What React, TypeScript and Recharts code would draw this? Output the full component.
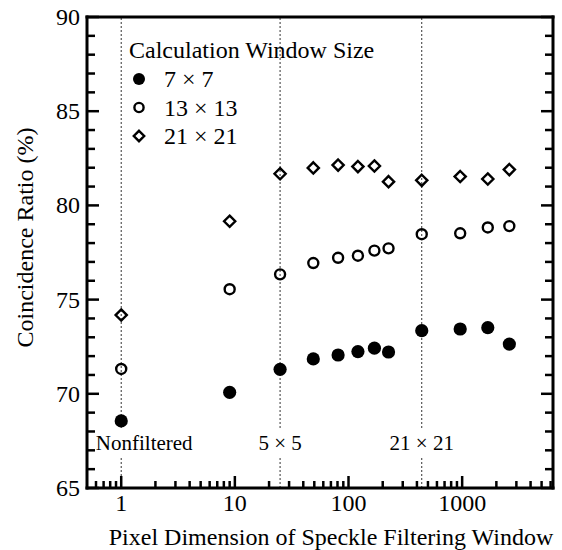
import React from "react";
import { Legend, ReferenceLine, Scatter, ScatterChart, XAxis, YAxis } from "recharts";

// filtering window area (pixels): 1, 3x3, 5x5, ... 51x51
const FILTER_SIZES = [1, 9, 25, 49, 81, 121, 169, 225, 441, 961, 1681, 2601];
const RATIO_7 = [68.56, 70.08, 71.3, 71.85, 72.06, 72.24, 72.42, 72.22, 73.35, 73.44, 73.51, 72.64];
const RATIO_13 = [71.32, 75.55, 76.34, 76.94, 77.22, 77.33, 77.6, 77.72, 78.47, 78.52, 78.83, 78.9];
const RATIO_21 = [74.18, 79.16, 81.68, 81.99, 82.14, 82.06, 82.09, 81.26, 81.33, 81.53, 81.4, 81.9];
const SERIES_NAMES = ["7 \u00d7 7", "13 \u00d7 13", "21 \u00d7 21"];

const REF_X = [1, 25, 441];
const REF_LABELS = ["Nonfiltered", "5 \u00d7 5", "21 \u00d7 21"];
const REF_LABEL_Y = 67.4;

const X_MAJOR = [1, 10, 100, 1000];
const X_MINOR = [
  0.6, 0.7, 0.8, 0.9, 2, 3, 4, 5, 6, 7, 8, 9, 20, 30, 40, 50, 60, 70, 80, 90,
  200, 300, 400, 500, 600, 700, 800, 900, 2000, 3000, 4000, 5000, 6000,
];
const Y_MAJOR = [65, 70, 75, 80, 85, 90];
const Y_MINOR = Array.from({ length: 26 }, (_, i) => 65 + i).filter((v) => v % 5 !== 0);

const X_TICKS = [...X_MINOR, ...X_MAJOR].sort((a, b) => a - b);
const Y_TICKS = [...Y_MINOR, ...Y_MAJOR].sort((a, b) => a - b);

const FONT = '"Liberation Serif", "Times New Roman", serif';
const AXIS_LINE = { stroke: "#000", strokeWidth: 3, strokeLinecap: "square" as const };

const toPoints = (ys: number[]) => FILTER_SIZES.map((x, i) => ({ x, y: ys[i] }));
const labelPoints = REF_X.map((x, i) => ({ x, y: REF_LABEL_Y, label: REF_LABELS[i] }));

function BottomTick({ x, y, payload }: any) {
  const major = X_MAJOR.includes(payload.value);
  return (
    <g>
      <line x1={x} x2={x} y1={y} y2={y - (major ? 12 : 7)} stroke="#000" strokeWidth={2.5} />
      {major && (
        <text x={x} y={y + 23} textAnchor="middle" fontFamily={FONT} fontSize={24} fill="#000">
          {payload.value}
        </text>
      )}
    </g>
  );
}

function TopTick({ x, y, payload }: any) {
  const major = X_MAJOR.includes(payload.value);
  return <line x1={x} x2={x} y1={y} y2={y + (major ? 12 : 7)} stroke="#000" strokeWidth={2.5} />;
}

function LeftTick({ x, y, payload }: any) {
  const major = Y_MAJOR.includes(payload.value);
  return (
    <g>
      <line x1={x} x2={x + (major ? 12 : 8)} y1={y} y2={y} stroke="#000" strokeWidth={2.5} />
      {major && (
        <text x={x - 7} y={y + 8} textAnchor="end" fontFamily={FONT} fontSize={24} fill="#000">
          {payload.value}
        </text>
      )}
    </g>
  );
}

function RightTick({ x, y, payload }: any) {
  const major = Y_MAJOR.includes(payload.value);
  return <line x1={x} x2={x - (major ? 12 : 8)} y1={y} y2={y} stroke="#000" strokeWidth={2.5} />;
}

const FilledDot = ({ cx, cy, r = 6.6 }: any) => <circle cx={cx} cy={cy} r={r} fill="#000" />;
const OpenDot = ({ cx, cy, r = 5 }: any) => (
  <circle cx={cx} cy={cy} r={r} fill="none" stroke="#000" strokeWidth={2.4} />
);
const Diamond = ({ cx, cy, s = 5.6 }: any) => (
  <path
    d={`M${cx},${cy - s} L${cx + s},${cy} L${cx},${cy + s} L${cx - s},${cy} Z`}
    fill="none"
    stroke="#000"
    strokeWidth={2.4}
  />
);

function RefLabel({ cx, cy, payload }: any) {
  const text: string = payload.label;
  const w = text.length * 9 + 4;
  const shift = text === "Nonfiltered" ? 23 : 0;
  const mid = cx + shift;
  return (
    <g>
      <rect x={mid - w / 2} y={cy - 14} width={w} height={29} fill="#fff" />
      <text x={mid} y={cy + 7} textAnchor="middle" fontFamily={FONT} fontSize={21} fill="#000">
        {text}
      </text>
    </g>
  );
}

function LegendBox() {
  const markers = [FilledDot, OpenDot, Diamond];
  return (
    <svg width={280} height={125} style={{ display: "block" }}>
      <text x={9} y={28} fontFamily={FONT} fontSize={24} fill="#000">
        Calculation Window Size
      </text>
      {SERIES_NAMES.map((name, i) => {
        const Marker = markers[i];
        const cy = 49 + i * 28.5;
        return (
          <g key={name}>
            <Marker cx={19} cy={cy} r={i === 0 ? 6 : 4.6} s={5.2} />
            <text x={44} y={cy + 8} fontFamily={FONT} fontSize={24} fill="#000">
              {name}
            </text>
          </g>
        );
      })}
    </svg>
  );
}

export default function App() {
  return (
    <div style={{ position: "absolute", left: 0, top: 0, background: "#fff" }}>
      <ScatterChart width={562} height={550} margin={{ top: 16, right: 8, bottom: 0, left: 0 }}>
        <XAxis
          dataKey="x"
          type="number"
          scale="log"
          domain={[0.5, 6300]}
          allowDataOverflow
          ticks={X_TICKS}
          interval={0}
          tickSize={0}
          tickMargin={0}
          tickLine={false}
          axisLine={AXIS_LINE}
          tick={<BottomTick />}
          height={62}
          label={{
            content: ({ viewBox }: any) => (
              <text
                x={viewBox.x + viewBox.width / 2 + 11}
                y={viewBox.y + 57}
                textAnchor="middle"
                fontFamily={FONT}
                fontSize={24}
                fill="#000"
              >
                Pixel Dimension of Speckle Filtering Window
              </text>
            ),
          }}
        />
        <XAxis
          xAxisId="top"
          orientation="top"
          type="number"
          scale="log"
          domain={[0.5, 6300]}
          allowDataOverflow
          ticks={X_TICKS}
          interval={0}
          tickSize={0}
          tickMargin={0}
          tickLine={false}
          axisLine={AXIS_LINE}
          tick={<TopTick />}
          height={1}
        />
        <YAxis
          dataKey="y"
          type="number"
          domain={[65, 90]}
          allowDataOverflow
          ticks={Y_TICKS}
          interval={0}
          tickSize={0}
          tickMargin={0}
          tickLine={false}
          axisLine={AXIS_LINE}
          tick={<LeftTick />}
          width={87}
          label={{
            content: ({ viewBox }: any) => {
              const lx = viewBox.x + 33;
              const ly = viewBox.y + viewBox.height / 2 - 15;
              return (
                <text
                  x={lx}
                  y={ly}
                  transform={`rotate(-90, ${lx}, ${ly})`}
                  textAnchor="middle"
                  fontFamily={FONT}
                  fontSize={24}
                  fill="#000"
                >
                  Coincidence Ratio (%)
                </text>
              );
            },
          }}
        />
        <YAxis
          yAxisId="right"
          orientation="right"
          type="number"
          domain={[65, 90]}
          allowDataOverflow
          ticks={Y_TICKS}
          interval={0}
          tickSize={0}
          tickMargin={0}
          tickLine={false}
          axisLine={AXIS_LINE}
          tick={<RightTick />}
          width={1}
        />
        {REF_X.map((x) => (
          <ReferenceLine key={x} x={x} stroke="#333" strokeWidth={1} strokeDasharray="2 2" />
        ))}
        <Scatter data={labelPoints} shape={<RefLabel />} legendType="none" isAnimationActive={false} />
        <Scatter name={SERIES_NAMES[0]} data={toPoints(RATIO_7)} shape={<FilledDot />} isAnimationActive={false} />
        <Scatter name={SERIES_NAMES[1]} data={toPoints(RATIO_13)} shape={<OpenDot />} isAnimationActive={false} />
        <Scatter name={SERIES_NAMES[2]} data={toPoints(RATIO_21)} shape={<Diamond />} isAnimationActive={false} />
        <Legend
          layout="vertical"
          align="center"
          verticalAlign="middle"
          wrapperStyle={{ left: 120, top: 30, width: 280, height: 125 }}
          content={() => <LegendBox />}
        />
      </ScatterChart>
    </div>
  );
}
